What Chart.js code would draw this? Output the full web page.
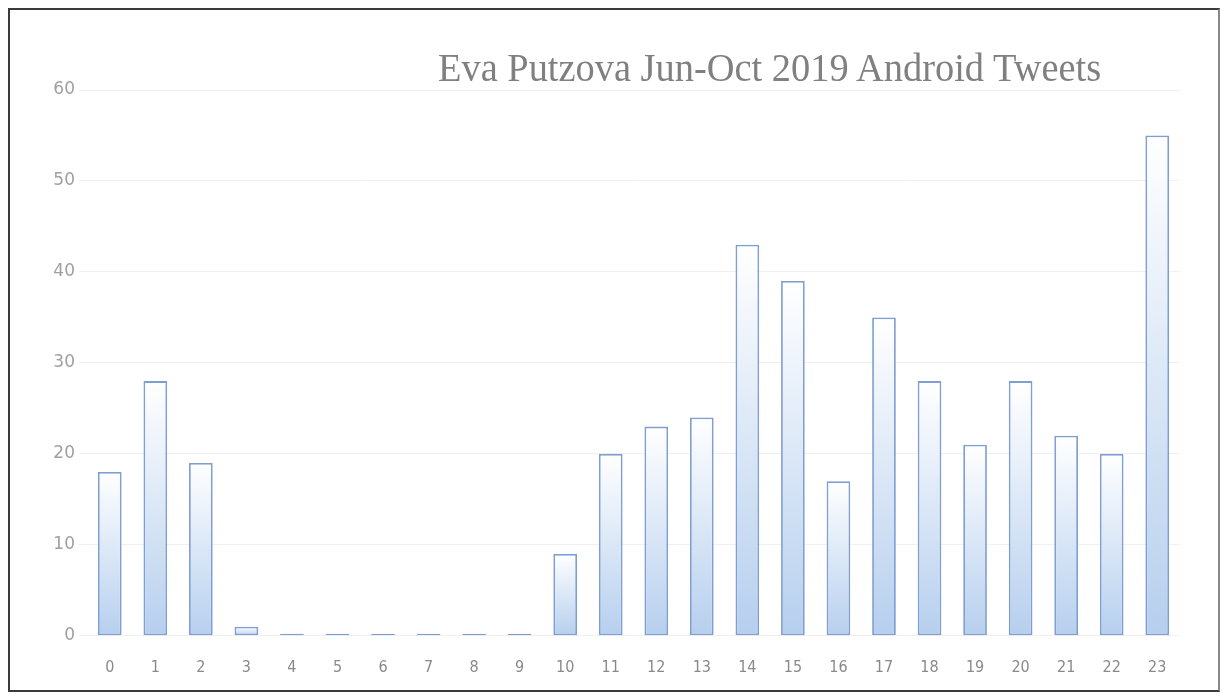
<!DOCTYPE html>
<html>
<head>
<meta charset="utf-8">
<script src="https://cdn.jsdelivr.net/npm/chart.js@4.4.1/dist/chart.umd.min.js"></script>
<style>
    html, body { margin: 0; padding: 0; background: #fff; }
    #frame { position: absolute; left: 8px; top: 8px; width: 1208px; height: 680px; border: 2px solid #3a3a3a; border-right-color: #888; }
    #wrap { position: absolute; left: 0; top: 0; width: 1222px; height: 698px; }
    #title { position: absolute; left: 438px; top: 44px; font-family: "Liberation Serif", serif; font-size: 40px; color: #808080; white-space: nowrap; transform: scaleX(0.96); transform-origin: left top; }
</style>
</head>
<body>
<div id="frame"></div>
<div id="wrap"><canvas id="chart" width="1222" height="698"></canvas></div>
<div id="title">Eva Putzova Jun-Oct 2019 Android Tweets</div>
<script>
const hours = ['0', '1', '2', '3', '4', '5', '6', '7', '8', '9', '10', '11',
    '12', '13', '14', '15', '16', '17', '18', '19', '20', '21', '22', '23'];
const tweets = [18, 28, 19, 1, 0, 0, 0, 0, 0, 0, 9, 20, 23, 24, 43, 39, 17, 35, 28, 21, 28, 22, 20, 55];
const yTicks = [0, 10, 20, 30, 40, 50, 60];

function barFill(context) {
    const chart = context.chart;
    const y = chart.scales.y;
    if (!chart.chartArea || !y) return '#d6e5f6';
    const top = y.getPixelForValue(context.raw || 0.5);
    const bottom = y.getPixelForValue(0);
    const g = chart.ctx.createLinearGradient(0, top, 0, bottom);
    g.addColorStop(0, '#ffffff');
    g.addColorStop(1, '#b6cfee');
    return g;
}

new Chart(document.getElementById('chart').getContext('2d'), {
    type: 'bar',
    data: {
        labels: hours,
        datasets: [
            {label: 'Tweets', data: tweets, backgroundColor: barFill, borderColor: '#7f9fd2', borderWidth: 1.8, borderSkipped: false, barPercentage: 0.52, categoryPercentage: 1, minBarLength: 2},
        ]
    },
    options: {
        responsive: false,
        animation: false,
        layout: {padding: {left: 0, right: 42, top: 90, bottom: 7}},
        plugins: {
            legend: {display: false},
            title: {display: false},
            tooltip: {enabled: false}
        },
        scales: {
            x: {
                grid: {display: false},
                border: {display: false},
                ticks: {color: '#8a8a8a', font: {family: 'DejaVu Sans Condensed', size: 16}, padding: 14}
            },
            y: {
                min: 0,
                max: 60,
                afterBuildTicks: axis => { axis.ticks = yTicks.map(v => ({value: v})); },
                afterFit: axis => { axis.width = 87; },
                grid: {color: '#f0f0f0', lineWidth: 1},
                border: {display: false},
                ticks: {color: '#a0a0a0', font: {family: 'DejaVu Sans', size: 17}, padding: 4}
            }
        }
    }
});
</script>
</body>
</html>
